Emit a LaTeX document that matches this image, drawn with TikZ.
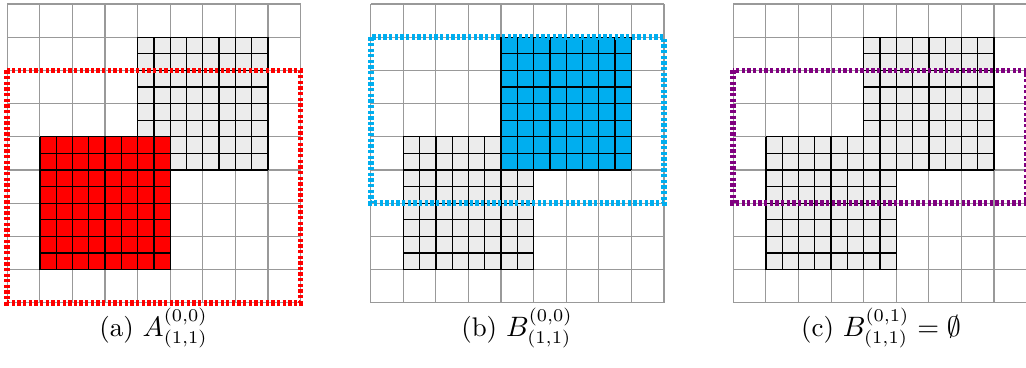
\documentclass[tikz,border=0pt]{standalone}
\definecolor{regred}{RGB}{255,0,0}
\definecolor{regblue}{RGB}{0,174,239}
\definecolor{regpurple}{RGB}{128,0,128}
\definecolor{blockgray}{RGB}{236,236,236}
\begin{document}
\begin{tikzpicture}[x=0.39pt,y=-0.39pt]
\tikzset{
  coarse/.style={draw=black!40, line width=0.45pt},
  fineline/.style={draw=black, line width=0.5pt},
  region/.style={line width=2.2pt, dash pattern=on 1.3pt off 0.9pt},
  panel/.style={x=12.71pt, y=-12.95pt},
  caption/.style={anchor=base, font=\fontsize{10.5}{12.6}\selectfont},
}
\newcommand\coarsegrid{%
  \foreach \i in {0,...,9}{%
    \draw[coarse] (\i,0) -- (\i,9);
    \draw[coarse] (0,\i) -- (9,\i);
  }}
\newcommand\fineblock[3]{%
  \fill[#3] (#1,#2) rectangle (#1+4,#2+4);
  \foreach \k in {0,1,...,8}{%
    \draw[fineline] (#1+\k/2,#2) -- (#1+\k/2,#2+4);
    \draw[fineline] (#1,#2+\k/2) -- (#1+4,#2+\k/2);
  }}
\useasboundingbox (0,0) rectangle (1026,367);
% panel (a)
\begin{scope}[shift={(7.3,4)}, panel]
  \coarsegrid
  \fineblock{4}{1}{blockgray}
  \fineblock{1}{4}{regred}
  \draw[region, regred] (0,2) rectangle (9,9);
\end{scope}
% panel (b)
\begin{scope}[shift={(370.7,4)}, panel]
  \coarsegrid
  \fineblock{1}{4}{blockgray}
  \fineblock{4}{1}{regblue}
  \draw[region, regblue] (0,1) rectangle (9,6);
\end{scope}
% panel (c)
\begin{scope}[shift={(733.3,4)}, panel]
  \coarsegrid
  \fineblock{1}{4}{blockgray}
  \fineblock{4}{1}{blockgray}
  \draw[region, regpurple] (0,2) rectangle (9,6);
\end{scope}
\node[caption] (capa) at (153.5,336) {(a) $A^{(0,0)}_{(1,1)}$};
\node[caption] (capb) at (517,336) {(b) $B^{(0,0)}_{(1,1)}$};
\node[caption] (capc) at (881,336) {(c) $B^{(0,1)}_{(1,1)}=\emptyset$};
\end{tikzpicture}
\end{document}
